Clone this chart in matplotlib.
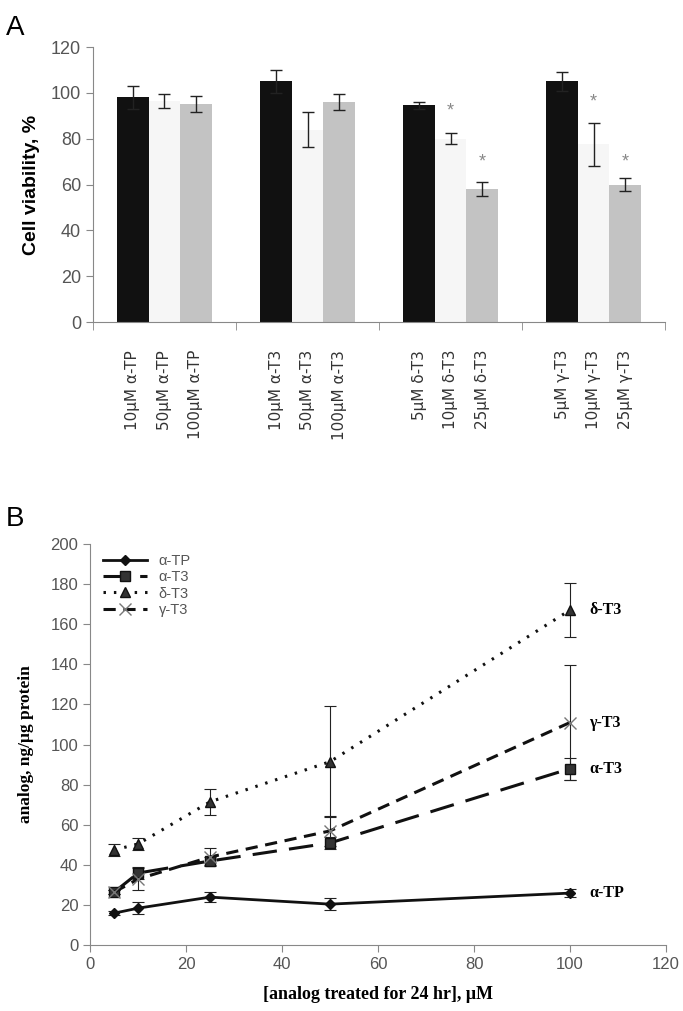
import numpy as np
import matplotlib
matplotlib.use('Agg')
import matplotlib.pyplot as plt
from matplotlib.lines import Line2D

plt.rcParams['font.family'] = ['Liberation Sans Narrow', 'Liberation Sans', 'DejaVu Sans']

# panel A data
groups = ['α-TP', 'α-T3', 'δ-T3', 'γ-T3']
bar_labels = [['10μM α-TP', '50μM α-TP', '100μM α-TP'],
              ['10μM α-T3', '50μM α-T3', '100μM α-T3'],
              ['5μM δ-T3', '10μM δ-T3', '25μM δ-T3'],
              ['5μM γ-T3', '10μM γ-T3', '25μM γ-T3']]
viab_low = [98, 105, 94.5, 105]
viab_mid = [96.5, 84, 80, 77.5]
viab_high = [95, 96, 58, 60]
err_low = [5, 5, 1.5, 4]
err_mid = [3, 7.5, 2.5, 9.5]
err_high = [3.5, 3.5, 3, 3]
star_mid = [None, None, 92, 96]
star_high = [None, None, 70, 70]

# panel B data
conc = [5, 10, 25, 50, 100]
a_tp = [16, 18.5, 24, 20.5, 26]
a_tp_err = [1, 3, 2.5, 3, 2]
a_t3 = [26.5, 36, 42, 51, 88]
a_t3_err = [1, 3, 2, 3, 5.5]
d_t3 = [47.5, 50.5, 71.5, 91.5, 167]
d_t3_err = [3, 3, 6.5, 27.5, 13.5]
g_t3 = [26.5, 33, 44, 57, 111]
g_t3_err = [1, 5.5, 4.5, 7.5, 28.5]

fig = plt.figure(figsize=(6.83, 10.11), dpi=100)
gray = '#555555'
spine_c = '#888888'

# ---- A ----
axA = fig.add_axes([0.136, 0.6815, 0.838, 0.272])
w = 0.22
centers = np.arange(len(groups)) + 0.5
colors = ['#111111', '#f6f6f6', '#c3c3c3']
vals = [viab_low, viab_mid, viab_high]
errs = [err_low, err_mid, err_high]
for k in range(3):
    axA.bar(centers + (k - 1) * w, vals[k], w, color=colors[k],
            yerr=errs[k], error_kw=dict(ecolor='#222222', elinewidth=1, capsize=4, capthick=1))
for i in range(len(groups)):
    if star_mid[i] is not None:
        axA.text(centers[i], star_mid[i], '*', ha='center', va='center', fontsize=13, color='#888888')
    if star_high[i] is not None:
        axA.text(centers[i] + w, star_high[i], '*', ha='center', va='center', fontsize=13, color='#888888')
axA.set_xlim(0, 4)
axA.set_ylim(0, 120)
axA.set_yticks(np.arange(0, 121, 20))
pos = np.concatenate([centers + (k - 1) * w for k in range(3)])
labs = [bar_labels[i][k] for k in range(3) for i in range(len(groups))]
axA.set_xticks(pos)
axA.set_xticklabels(labs, rotation=90, fontsize=11, color='#333333', family='DejaVu Sans')
axA.tick_params(axis='x', length=0, pad=20)
axA.set_xticks(np.arange(0, 5), minor=True)
axA.tick_params(axis='x', which='minor', length=6, color=spine_c)
axA.tick_params(axis='y', labelsize=13, labelcolor=gray, color=spine_c, length=5)
for s in ['top', 'right']:
    axA.spines[s].set_visible(False)
for s in ['left', 'bottom']:
    axA.spines[s].set_color(spine_c)
axA.set_ylabel('Cell viability, %', fontsize=14, fontweight='bold', family='Liberation Sans', labelpad=8)
fig.text(0.008, 0.972, 'A', fontsize=20, family='Liberation Sans', va='center')

# ---- B ----
axB = fig.add_axes([0.132, 0.065, 0.843, 0.397])
ekw = dict(ecolor='#222222', elinewidth=0.8, capsize=4, capthick=0.8)
styles = [dict(lw=2, ls='-', marker='D', ms=5),
          dict(lw=2.2, ls=(0, (8, 4)), marker='s', ms=7, markerfacecolor='#333333'),
          dict(lw=2.2, ls=(0, (0.8, 2.6)), marker='^', ms=7, markerfacecolor='#333333'),
          dict(lw=2.2, ls=(0, (4, 2.5)), marker='x', ms=8, markeredgecolor='#777777')]
names = ['α-TP', 'α-T3', 'δ-T3', 'γ-T3']
series = [a_tp, a_t3, d_t3, g_t3]
series_err = [a_tp_err, a_t3_err, d_t3_err, g_t3_err]
handles = []
for n, s, e, st in zip(names, series, series_err, styles):
    axB.errorbar(conc, s, yerr=e, color='#111111', **st, **ekw)
    handles.append(Line2D([], [], color='#111111', **st))
    axB.text(104, s[-1], n, fontsize=11.5, fontweight='bold', family='Liberation Serif', va='center')
axB.set_xlim(0, 120)
axB.set_ylim(0, 200)
axB.set_xticks(np.arange(0, 121, 20))
axB.set_yticks(np.arange(0, 201, 20))
axB.tick_params(labelsize=12, labelcolor=gray, color=spine_c, length=5)
for s in ['top', 'right']:
    axB.spines[s].set_visible(False)
for s in ['left', 'bottom']:
    axB.spines[s].set_color(spine_c)
axB.set_ylabel('analog, ng/μg protein', fontsize=12.5, fontweight='bold', family='Liberation Serif', labelpad=12)
axB.set_xlabel('[analog treated for 24 hr], μM', fontsize=13, fontweight='bold', family='Liberation Serif', labelpad=10)
leg = axB.legend(handles, names, loc='upper left', frameon=False, fontsize=10.5, handlelength=3, borderaxespad=0.3,
                 labelspacing=0.15, bbox_to_anchor=(0.005, 1.0))
for t in leg.get_texts():
    t.set_color(gray)
fig.text(0.008, 0.487, 'B', fontsize=20, family='Liberation Sans', va='center')

fig.savefig('out.png', dpi=100)
